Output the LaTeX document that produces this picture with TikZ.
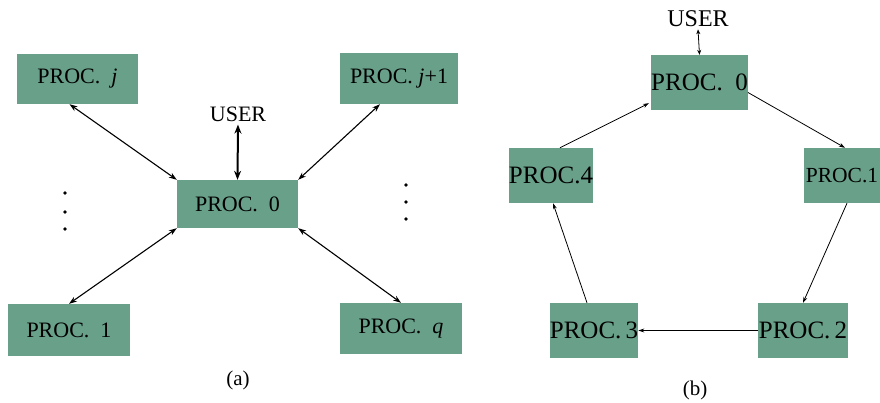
\documentclass[tikz,border=0pt]{standalone}
\usepackage{fontspec}
\setmainfont{Liberation Serif}
\usetikzlibrary{arrows.meta}
\definecolor{procgreen}{RGB}{104,160,138}
\begin{document}
\begin{tikzpicture}[x=1pt,y=1pt,
  proc/.style={fill=procgreen, draw=none, inner sep=0pt, align=center},
  pa/.style={proc, font=\fontsize{22}{24}\selectfont},
  pb/.style={proc, font=\fontsize{25}{27}\selectfont},
  lbl/.style={inner sep=0pt, font=\fontsize{22}{24}\selectfont},
  biarrow/.style={{Stealth[length=8pt,width=5.5pt]}-{Stealth[length=8pt,width=5.5pt]}, line width=1.1pt},
  userarrow/.style={{Stealth[length=9pt,width=7pt]}-{Stealth[length=9pt,width=7pt]}, line width=2pt},
  ringarrow/.style={-{Stealth[length=6pt,width=4pt]}, line width=0.8pt},
  smallbi/.style={{Stealth[length=5pt,width=4pt]}-{Stealth[length=5pt,width=4pt]}, line width=0.8pt},
  dot/.style={fill=black}]
\useasboundingbox (0,0) rectangle (880,402);
\clip (0,0) rectangle (880,402);

% ---- (a) star arrangement ----
\node[pa, minimum width=121, minimum height=50] (pj)  at (77.5,323)  {PROC.\ \ \textit{j}};
\node[pa, minimum width=118, minimum height=51] (pj1) at (399,323.5) {PROC. \textit{j}+1};
\node[pa, minimum width=121, minimum height=48] (p0a) at (237.5,198) {PROC.\ \ 0};
\node[pa, minimum width=122, minimum height=52] (p1)  at (69,72)     {PROC.\ \ 1};
\node[pa, minimum width=122, minimum height=51] (pq)  at (401,73.5)  {PROC.\ \ \textit{q}};
\node[lbl] (ua) at (238,288) {USER};
\node[inner sep=0pt, font=\fontsize{21}{23}\selectfont] (la) at (238,22) {(a)};

\draw[userarrow] ([yshift=-3]ua.south) -- (p0a.north);
\draw[biarrow] ([xshift=-8]pj.south) -- (p0a.north west);
\draw[biarrow] ([xshift=-19]pj1.south) -- (p0a.north east);
\draw[biarrow] (p1.north) -- (p0a.south west);
\draw[biarrow] (pq.north) -- (p0a.south east);

\foreach \y in {173,190,209} \fill[dot] (65,\y) circle (1.8);
\foreach \y in {183,200,217} \fill[dot] (406,\y) circle (1.8);

% ---- (b) ring arrangement ----
\node[pb, minimum width=95, minimum height=55] (b0) at (699.5,319.5) {PROC.\ \ 0};
\node[pb, minimum width=84, minimum height=55] (b4) at (551,226.5)   {PROC.4};
\node[pb, minimum width=76, minimum height=55, font=\fontsize{21.5}{24}\selectfont] (b1) at (842,226.5) {PROC.1};
\node[pb, minimum width=88, minimum height=55] (b3) at (594,71.5)    {PROC.\,3};
\node[pb, minimum width=90, minimum height=55] (b2) at (803,71.5)    {PROC.\,2};
\node[inner sep=0pt, font=\fontsize{24}{26}\selectfont] (ub) at (698,383) {USER};
\node[inner sep=0pt, font=\fontsize{21}{23}\selectfont] (lb) at (695,12) {(b)};

\draw[smallbi] ([yshift=-2]ub.south) -- (b0.north);
\draw[ringarrow] ([yshift=-10]b0.east) -- ([xshift=3]b1.north);
\draw[ringarrow] ([xshift=5]b1.south) -- (b2.north);
\draw[ringarrow] (b2.west) -- (b3.east);
\draw[ringarrow] ([xshift=-7]b3.north) -- ([xshift=2]b4.south);
\draw[ringarrow] ([xshift=9]b4.north) -- ([xshift=-2,yshift=7]b0.south west);
\end{tikzpicture}
\end{document}
